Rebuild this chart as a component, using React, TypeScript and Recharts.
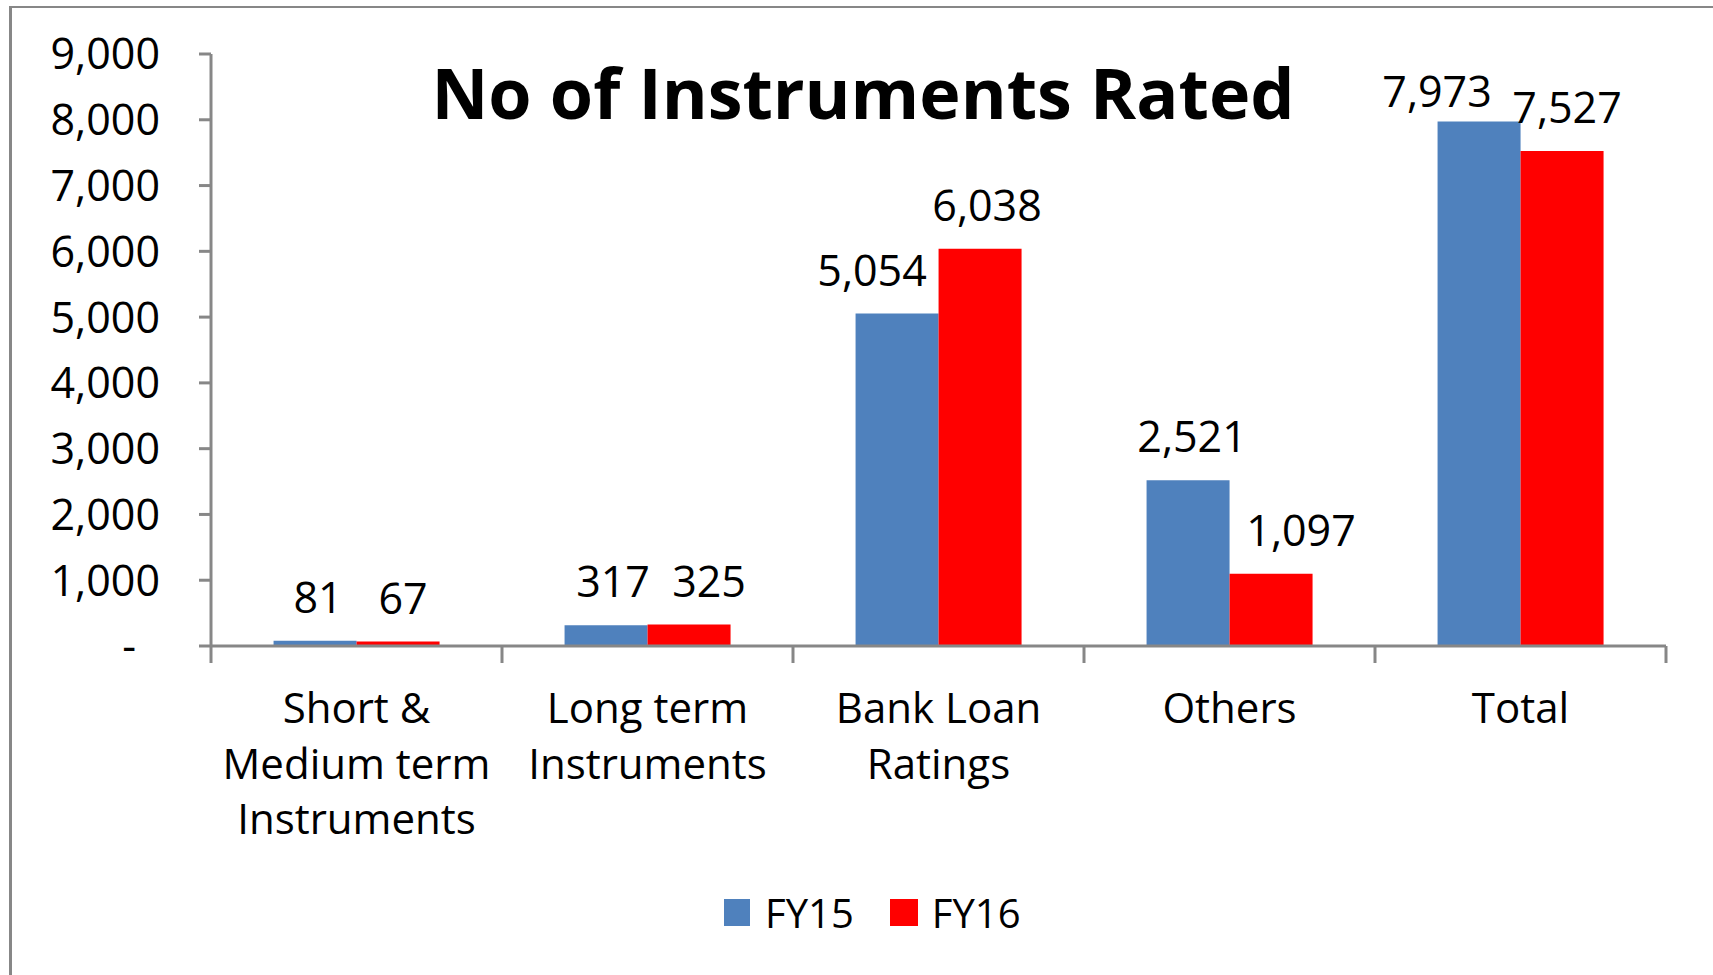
import { BarChart, Bar, XAxis, YAxis, LabelList } from "recharts";

const categories = ["Short & Medium term Instruments", "Long term Instruments", "Bank Loan Ratings", "Others", "Total"];
const categoryLines = [["Short &", "Medium term", "Instruments"], ["Long term", "Instruments"], ["Bank Loan", "Ratings"], ["Others"], ["Total"]];
const fy15 = [81, 317, 5054, 2521, 7973];
const fy16 = [67, 325, 6038, 1097, 7527];
const yTicks = [0, 1000, 2000, 3000, 4000, 5000, 6000, 7000, 8000, 9000];

const data = categories.map((name, i) => ({ name, lines: categoryLines[i], fy15: fy15[i], fy16: fy16[i] }));

// hand-placed label shifts, as the source chart had them
const nudge: Record<string, { dx: number[]; dy: number[] }> = {
  fy15: { dx: [3, 7, -25, 4, -42], dy: [0, 0, 0, 0, 13] },
  fy16: { dx: [5, 20, 7, 30, 5], dy: [0, 0, 0, 0, 0] },
};

const FONT = "'Open Sans', sans-serif";
const AXIS = "#878787";
const BLUE = "#4F81BD";
const RED = "#FF0000";
const fmt = (v: number) => v.toLocaleString("en-US");

function YTick({ x, y, payload }: any) {
  const zero = payload.value === 0;
  return (
    <text x={zero ? x - 24 : x} y={y} dy="0.36em" textAnchor="end" fontFamily={FONT} fontSize={43} fill="#000">
      {zero ? "-" : fmt(payload.value)}
    </text>
  );
}

function XTick({ x, y, payload, index, visibleTicksCount }: any) {
  const half = payload.offset ?? 145.5;
  const lines: string[] = data[index]?.lines ?? [String(payload.value)];
  return (
    <g>
      <line x1={x - half} x2={x - half} y1={y} y2={y + 17} stroke={AXIS} strokeWidth={3} />
      {index === visibleTicksCount - 1 && (
        <line x1={x + half} x2={x + half} y1={y} y2={y + 17} stroke={AXIS} strokeWidth={3} />
      )}
      {lines.map((l, i) => (
        <text key={i} x={x} y={y + 77 + i * 55.5} textAnchor="middle" fontFamily={FONT} fontSize={42} fill="#000">
          {l}
        </text>
      ))}
    </g>
  );
}

const makeLabel = (key: string) => (props: any) => {
  const { x, y, width, value, index } = props;
  const n = nudge[key];
  return (
    <text
      x={x + width / 2 + n.dx[index]}
      y={y - 28 + n.dy[index]}
      textAnchor="middle"
      fontFamily={FONT}
      fontSize={43}
      fill="#000"
    >
      {fmt(value)}
    </text>
  );
};

export default function App() {
  return (
    <div style={{ position: "absolute", left: 0, top: 0, width: 1713, height: 975, background: "#fff", overflow: "hidden" }}>
      <div
        style={{
          position: "absolute",
          left: 9,
          top: 6,
          width: 1800,
          height: 1100,
          borderLeft: `3px solid ${AXIS}`,
          borderTop: `2px solid ${AXIS}`,
        }}
      />
      <BarChart
        width={1713}
        height={975}
        data={data}
        margin={{ top: 54, right: 47, left: 0, bottom: 129 }}
        barCategoryGap="21.5%"
        barGap={0}
      >
        <XAxis
          dataKey="name"
          height={200}
          tickLine={false}
          tickSize={0}
          tickMargin={0}
          interval={0}
          axisLine={{ stroke: AXIS, strokeWidth: 3 }}
          tick={<XTick />}
        />
        <YAxis
          width={211}
          domain={[0, 9000]}
          ticks={yTicks}
          interval={0}
          tickSize={12}
          tickMargin={39}
          axisLine={{ stroke: AXIS, strokeWidth: 3 }}
          tickLine={{ stroke: AXIS, strokeWidth: 3 }}
          tick={<YTick />}
        />
        <Bar dataKey="fy15" name="FY15" fill={BLUE} isAnimationActive={false}>
          <LabelList dataKey="fy15" content={makeLabel("fy15")} />
        </Bar>
        <Bar dataKey="fy16" name="FY16" fill={RED} isAnimationActive={false}>
          <LabelList dataKey="fy16" content={makeLabel("fy16")} />
        </Bar>
      </BarChart>
      <div
        style={{
          position: "absolute",
          left: 863,
          top: 57,
          transform: "translateX(-50%)",
          whiteSpace: "nowrap",
          fontFamily: FONT,
          fontWeight: 700,
          fontSize: 70,
          lineHeight: 1,
          color: "#000",
        }}
      >
        No of Instruments Rated
      </div>
      <div
        style={{
          position: "absolute",
          left: 724,
          top: 890,
          height: 44,
          display: "flex",
          alignItems: "center",
          fontFamily: FONT,
          fontSize: 40,
          color: "#000",
        }}
      >
        <span style={{ display: "inline-block", width: 26, height: 27, background: BLUE }} />
        <span style={{ marginLeft: 15, marginRight: 36 }}>FY15</span>
        <span style={{ display: "inline-block", width: 28, height: 27, background: RED }} />
        <span style={{ marginLeft: 14 }}>FY16</span>
      </div>
    </div>
  );
}
